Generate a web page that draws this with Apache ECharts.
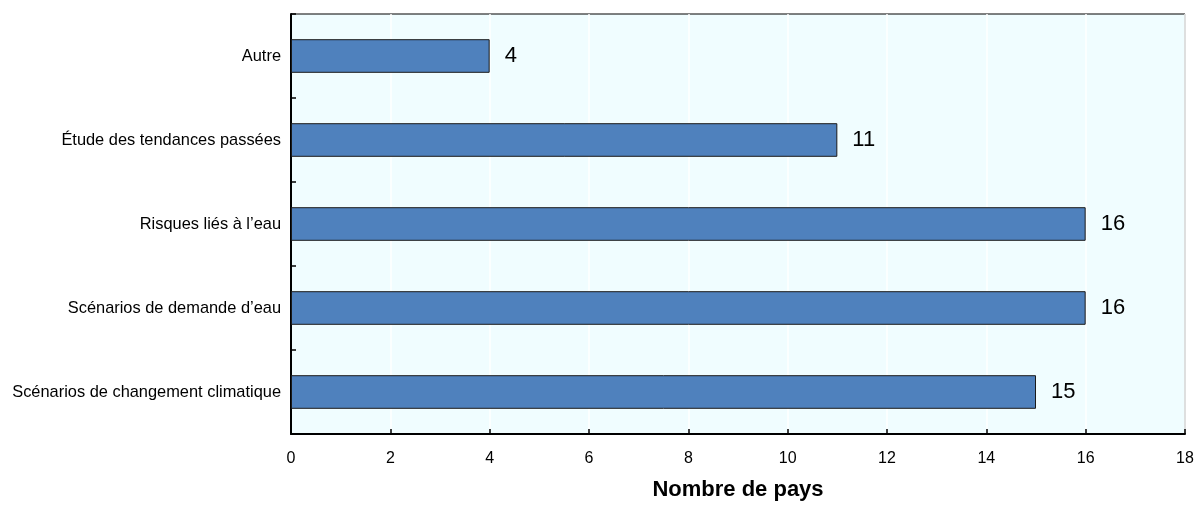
<!DOCTYPE html>
<html><head><meta charset="utf-8">
<script src="https://cdn.jsdelivr.net/npm/echarts@6/dist/echarts.min.js"></script>
<style>html,body{margin:0;padding:0;background:#fff}#c{width:1197px;height:507px}</style>
</head><body><div id="c"></div>
<script>
const categories = ['Scénarios de changement climatique', 'Scénarios de demande d’eau', 'Risques liés à l’eau', 'Étude des tendances passées', 'Autre'];
const values = [15, 16, 16, 11, 4];
const xTicks = { min: 0, max: 18, interval: 2 };
const xName = 'Nombre de pays';

const chart = echarts.init(document.getElementById('c'), null, { renderer: 'canvas' });
chart.setOption({
  animation: false,
  textStyle: { fontFamily: 'Liberation Sans, Arial, sans-serif' },
  grid: { left: 291, right: 12, top: 14, bottom: 73, show: true, backgroundColor: '#f0fdff', borderColor: '#000', borderWidth: 1 },
  xAxis: {
    type: 'value', min: xTicks.min, max: xTicks.max, interval: xTicks.interval,
    name: xName, nameLocation: 'middle', nameGap: 45,
    nameTextStyle: { fontSize: 22, fontWeight: 'bold', color: '#000' },
    axisLine: { show: true, lineStyle: { color: '#000', width: 2 } },
    axisTick: { show: true, inside: true, length: 5, lineStyle: { color: '#000', width: 1.5 } },
    axisLabel: { color: '#000', fontSize: 16, margin: 17, fontFamily: 'Liberation Sans, Arial, sans-serif' },
    splitLine: { show: true, lineStyle: { color: '#ffffff', width: 1.5 } }
  },
  yAxis: {
    type: 'category', data: categories,
    axisLine: { show: true, lineStyle: { color: '#000', width: 2 } },
    axisTick: { show: true, inside: true, length: 5, lineStyle: { color: '#000', width: 1.5 } },
    axisLabel: { color: '#000', fontSize: 16.4, margin: 10 },
    splitLine: { show: false }
  },
  series: [{
    type: 'bar', data: values, barWidth: '40%',
    itemStyle: { color: '#4f81bd', borderColor: '#1a1a1a', borderWidth: 1 },
    label: { show: true, position: 'right', distance: 15, fontSize: 22, color: '#000' }
  }]
});
</script></body></html>
